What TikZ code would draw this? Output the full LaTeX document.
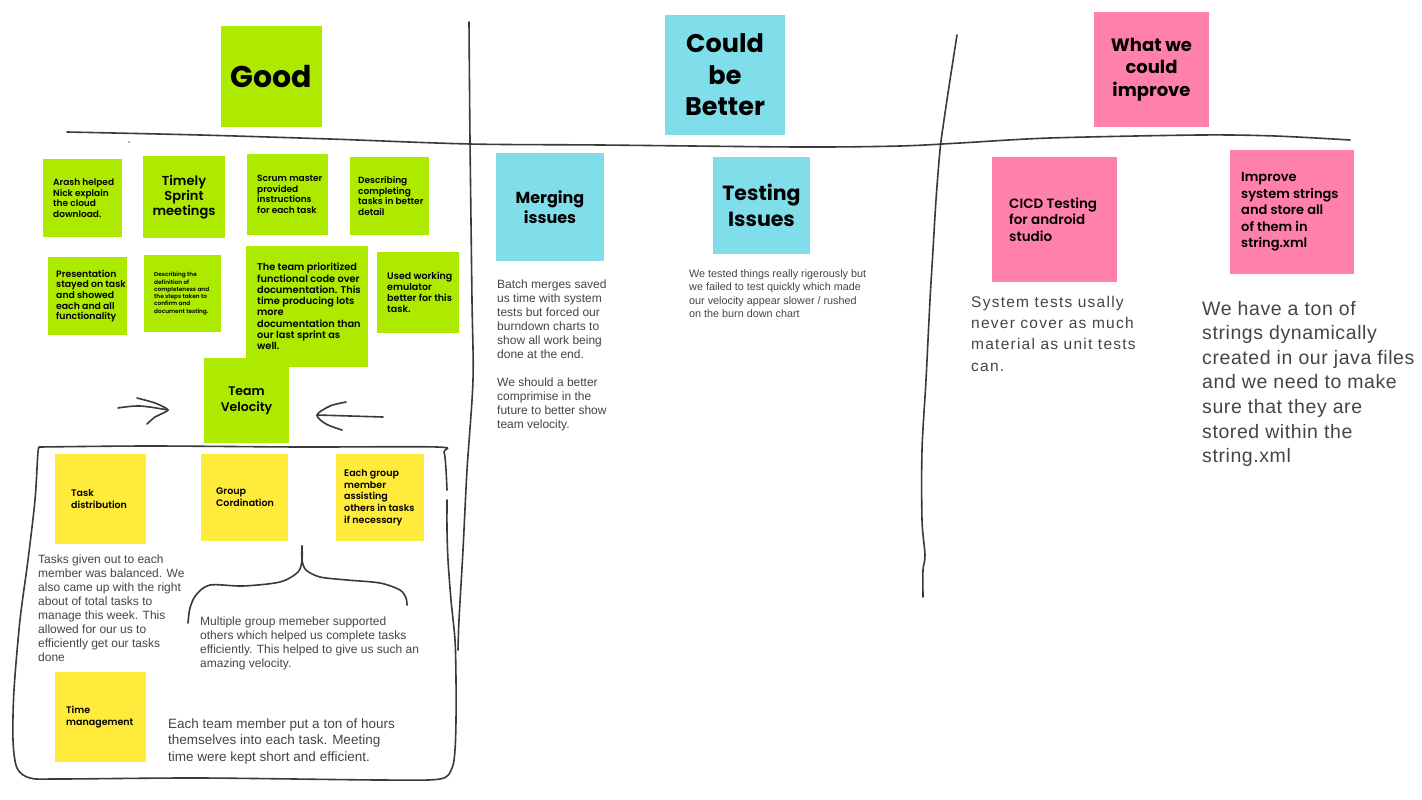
\documentclass[tikz,border=0pt]{standalone}
\usepackage{fontspec}
\newfontfamily\stickyfont{Poppins}[BoldFont={* SemiBold}]
\newfontfamily\headfont{Poppins}
\newfontfamily\bodyfont{Liberation Sans}
\newfontfamily\bodywide{Liberation Sans}[LetterSpace=8]
\newfontfamily\bodysemi{Liberation Sans}[LetterSpace=3]
\definecolor{notegreen}{HTML}{AEEA00}
\definecolor{notecyan}{HTML}{80DEEA}
\definecolor{notepink}{HTML}{FF80AB}
\definecolor{noteyellow}{HTML}{FFEB3B}
\definecolor{inkgray}{HTML}{3A3A3A}
\definecolor{textgray}{HTML}{454545}
\tikzset{
  note/.style={anchor=north west, inner sep=0pt, outer sep=0pt, draw=none},
  ltext/.style={font=\stickyfont\bfseries, text=black, inner sep=0pt, align=left, anchor=west},
  ctext/.style={font=\stickyfont\bfseries, text=black, inner sep=0pt, align=center, anchor=center},
  % body paragraphs are placed by the baseline of their last line
  btext/.style={font=\bodyfont, text=textgray, inner sep=0pt, align=left, anchor=base west},
  ink/.style={draw=inkgray, line width=1.6pt, line cap=round, line join=round}
}
\newcommand{\fs}[2]{\fontsize{#1}{#2}\selectfont}
\begin{document}
\begin{tikzpicture}[x=1pt, y=-1pt]
\fill[white] (0,0) rectangle (1422,800);
\useasboundingbox (0,0) rectangle (1422,800);

% ---------- column headers ----------
\node[note, fill=notegreen, minimum width=101, minimum height=101] (good) at (221,26) {};
\node[ctext, font=\headfont\bfseries\fs{30}{36}] (goodT) at (good.center) {Good};
\node[note, fill=notecyan, minimum width=120, minimum height=120] (could) at (665,15) {};
\node[ctext, font=\headfont\bfseries\fs{25.5}{31.5}] (couldT) at (could.center) {Could\\be\\Better};
\node[note, fill=notepink, minimum width=115, minimum height=115] (what) at (1094,12) {};
\node[ctext, font=\headfont\bfseries\fs{18}{22.5}] (whatT) at (what.center) {What we\\could\\improve};

% ---------- board lines ----------
\draw[ink] plot[smooth, tension=0.5] coordinates {(67,132) (200,135) (330,139) (470,144) (600,145) (800,147) (900,146) (960,143) (1050,138) (1200,135) (1275,136) (1350,140)};
\draw[ink] plot[smooth, tension=0.5] coordinates {(469,22) (470,140) (472,300) (473,380) (467,470) (463,550) (459,620) (458,650)};
\draw[ink] plot[smooth, tension=0.5] coordinates {(957,35) (950,80) (944,120) (940,150) (936,200) (933,250) (930,300) (926,380) (922,450) (922,520) (925,555) (923,570) (923,597)};
\fill[inkgray!60] (129,142) circle (1pt);

% ---------- good notes ----------
\node[note, fill=notegreen, minimum width=79, minimum height=78] (arash) at (43,159) {};
\node[ltext, font=\stickyfont\bfseries\fs{9}{10.5}] (arashT) at ([xshift=10]arash.west) {Arash helped\\Nick explain\\the cloud\\download.};
\node[note, fill=notegreen, minimum width=82, minimum height=82] (timely) at (143,156) {};
\node[ctext, font=\stickyfont\bfseries\fs{13}{15}] (timelyT) at (timely.center) {Timely\\Sprint\\meetings};
\node[note, fill=notegreen, minimum width=81, minimum height=81] (scrum) at (247,154) {};
\node[ltext, font=\stickyfont\bfseries\fs{9}{10.7}] (scrumT) at ([xshift=10]scrum.west) {Scrum master\\provided\\instructions\\for each task};
\node[note, fill=notegreen, minimum width=79, minimum height=78] (descA) at (350,157) {};
\node[ltext, font=\stickyfont\bfseries\fs{9}{10.7}] (descAT) at ([xshift=8]descA.west) {Describing\\completing\\tasks in better\\detail};
\node[note, fill=notegreen, minimum width=79, minimum height=78] (pres) at (48,257) {};
\node[ltext, font=\stickyfont\bfseries\fs{9.3}{10.7}] (presT) at ([xshift=8]pres.west) {Presentation\\stayed on task\\and showed\\each and all\\functionality};
\node[note, fill=notegreen, minimum width=77, minimum height=77] (descB) at (144,255) {};
\node[ltext, font=\stickyfont\bfseries\fs{5.8}{7.3}] (descBT) at ([xshift=10]descB.west) {Describing the\\definition of\\completeness and\\the steps taken to\\confirm and\\document testing.};
\node[note, fill=notegreen, minimum width=122, minimum height=121] (prior) at (246,246) {};
\node[ltext, font=\stickyfont\bfseries\fs{9.8}{11.3}] (priorT) at ([xshift=11]prior.west) {The team prioritized\\functional code over\\documentation. This\\time producing lots\\more\\documentation than\\our last sprint as\\well.};
\node[note, fill=notegreen, minimum width=82, minimum height=81] (used) at (377,252) {};
\node[ltext, font=\stickyfont\bfseries\fs{9.5}{11}] (usedT) at ([xshift=10]used.west) {Used working\\emulator\\better for this\\task.};
\node[note, fill=notegreen, minimum width=85, minimum height=85] (vel) at (204,358) {};
\node[ctext, font=\stickyfont\bfseries\fs{12.5}{16}] (velT) at (vel.center) {Team\\Velocity};

% arrows pointing at the velocity note
\coordinate (la0) at (118,408); \coordinate (la1) at (168,410);
\draw[ink] plot[smooth, tension=0.6] coordinates {(la0) (140,406) (la1)};
\draw[ink] plot[smooth, tension=0.4] coordinates {(137,398) (155,403) (la1) (155,417) (147,424)};
\coordinate (ra0) at (383,417); \coordinate (ra1) at (317,415);
\draw[ink] plot[smooth, tension=0.6] coordinates {(ra0) (350,416) (ra1)};
\draw[ink] plot[smooth, tension=0.5] coordinates {(346,402) (330,406) (ra1) (326,424) (342,430)};

% ---------- velocity breakdown frame ----------
\draw[ink] plot[smooth, tension=0.5] coordinates {(40,447) (150,446) (300,447) (437,447) (444,452) (446,470) (447,490)};
\draw[ink] plot[smooth, tension=0.5] coordinates {(447,500) (447,530) (448,560) (451,600) (455,640) (456,680) (456,720) (455,750) (452,768) (440,779) (380,780) (200,778) (60,779) (30,778) (17,768) (13,740) (14,690) (20,620) (28,560) (35,500) (38,452) (40,447)};

\node[note, fill=noteyellow, minimum width=91, minimum height=90] (taskd) at (55,454) {};
\node[ltext, font=\stickyfont\bfseries\fs{9.5}{12}] (taskdT) at ([xshift=16]taskd.west) {Task\\distribution};
\node[note, fill=noteyellow, minimum width=87, minimum height=87] (groupc) at (201,454) {};
\node[ltext, font=\stickyfont\bfseries\fs{9.5}{12}] (groupcT) at ([xshift=15]groupc.west) {Group\\Cordination};
\node[note, fill=noteyellow, minimum width=88, minimum height=87] (eachg) at (336,454) {};
\node[ltext, font=\stickyfont\bfseries\fs{9.5}{11.7}] (eachgT) at ([xshift=8]eachg.west) {Each group\\member\\assisting\\others in tasks\\if necessary};
\node[note, fill=noteyellow, minimum width=91, minimum height=90] (timem) at (55,672) {};
\node[ltext, font=\stickyfont\bfseries\fs{9.5}{12}] (timemT) at ([xshift=11]timem.west) {Time\\management};

% brace under the group notes
\coordinate (brtip) at (302,546);
\draw[ink] plot[smooth, tension=0.5] coordinates {(188,623) (190,608) (196,595) (210,585) (243,586) (280,582) (298,572) (302,560) (brtip)};
\draw[ink] plot[smooth, tension=0.5] coordinates {(brtip) (302,560) (306,570) (320,577) (347,580) (380,583) (400,590) (406,598) (407,605)};

\node[btext, font=\bodyfont\fs{12}{14}] (taskdD) at (38,661) {Tasks given out to each\\member was balanced. We\\also came up with the right\\about of total tasks to\\manage this week. This\\allowed for our us to\\efficiently get our tasks\\done};
\node[btext, font=\bodyfont\fs{12}{14}] (groupD) at (200,667) {Multiple group memeber supported\\others which helped us complete tasks\\efficiently. This helped to give us such an\\amazing velocity.};
\node[btext, font=\bodyfont\fs{13.5}{16.5}] (timemD) at (168,761) {Each team member put a ton of hours\\themselves into each task. Meeting\\time were kept short and efficient.};

% ---------- could be better ----------
\node[note, fill=notecyan, minimum width=108, minimum height=108] (merge) at (496,153) {};
\node[ctext, font=\headfont\bfseries\fs{16}{20}] (mergeT) at (merge.center) {Merging\\issues};
\node[note, fill=notecyan, minimum width=97, minimum height=97] (test) at (713,157) {};
\node[ctext, font=\headfont\bfseries\fs{20.5}{26}] (testT) at (test.center) {Testing\\Issues};
\node[btext, font=\bodyfont\fs{12}{14}] (mergeD) at (497,428) {Batch merges saved\\us time with system\\tests but forced our\\burndown charts to\\show all work being\\done at the end.\\[14pt]We should a better\\comprimise in the\\future to better show\\team velocity.};
\node[btext, font=\bodyfont\fs{10.8}{13.5}] (testD) at (689,317.5) {We tested things really rigerously but\\we failed to test quickly which made\\our velocity appear slower / rushed\\on the burn down chart};

% ---------- what we could improve ----------
\node[note, fill=notepink, minimum width=125, minimum height=125] (cicd) at (992,157) {};
\node[ltext, font=\stickyfont\bfseries\fs{13.5}{16.5}] (cicdT) at ([xshift=17]cicd.west) {CICD Testing\\for android\\studio};
\node[note, fill=notepink, minimum width=124, minimum height=124] (impr) at (1230,150) {};
\node[ltext, font=\stickyfont\bfseries\fs{13}{16.5}] (imprT) at ([xshift=11]impr.west) {Improve\\system strings\\and store all\\of them in\\string.xml};
\node[btext, font=\bodywide\fs{15.5}{21.3}] (cicdD) at (971,371) {System tests usally\\never cover as much\\material as unit tests\\can.};
\node[btext, font=\bodysemi\fs{19.5}{24.6}] (imprD) at (1202,462.6) {We have a ton of\\strings dynamically\\created in our java files\\and we need to make\\sure that they are\\stored within the\\string.xml};
\end{tikzpicture}
\end{document}
